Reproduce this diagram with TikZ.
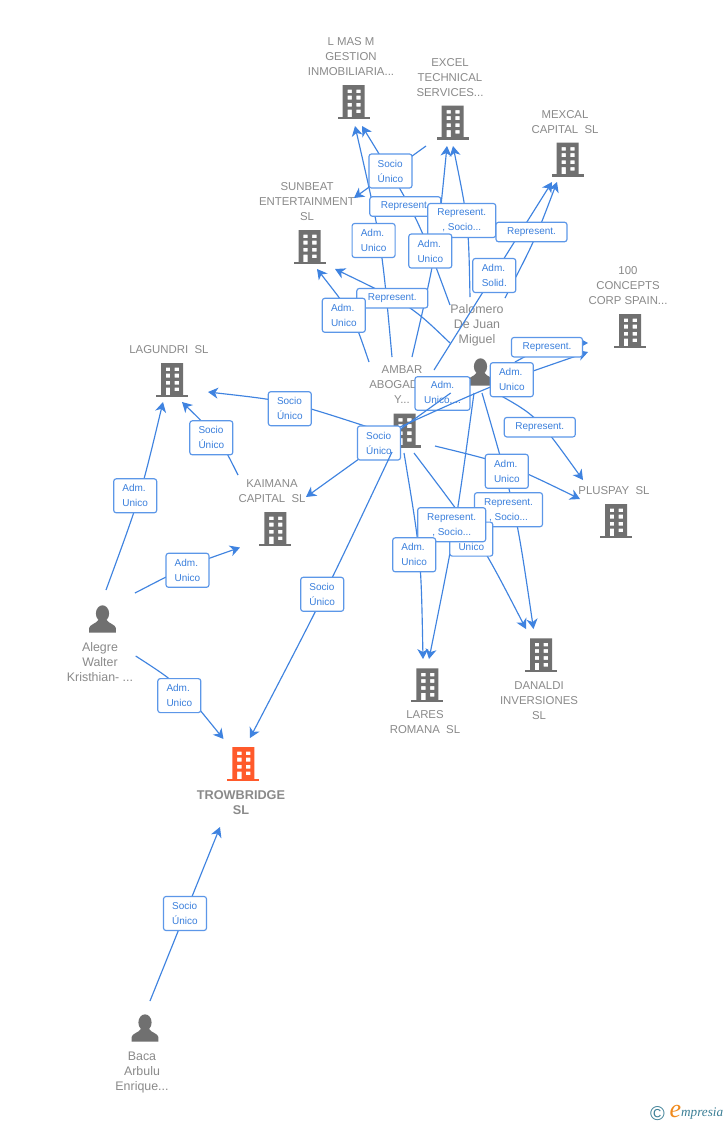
\documentclass[tikz,border=0pt]{standalone}
\usepackage{fontspec}
\setmainfont{Liberation Sans}
\newfontfamily\logofont{Liberation Serif}
\usetikzlibrary{arrows.meta}
\definecolor{linkblue}{HTML}{3F83E0}
\definecolor{boxblue}{HTML}{5C97E8}
\definecolor{textblue}{HTML}{3A7FDC}
\definecolor{labgrey}{HTML}{8A8A8A}
\definecolor{icongrey}{HTML}{707070}
\definecolor{mainorange}{HTML}{FF5A2B}
\definecolor{logoteal}{HTML}{3C7F96}
\definecolor{logoorange}{HTML}{F08A1D}
\tikzset{
  x=1pt,y=-1pt,
  link/.style={draw=linkblue,line width=1.15pt},
  arr/.style={link,-{Stealth[length=10pt,width=11pt,inset=3pt]}},
  tagbox/.style={draw=boxblue,line width=1.15pt,fill=white,rounded corners=2.5pt,inner sep=0pt,text=textblue,font=\fontsize{10}{15}\selectfont},
  twol/.style={tagbox,minimum width=43pt,minimum height=34pt,align=left},
  onel/.style={tagbox,minimum width=71pt,minimum height=19.5pt,align=center},
  twoc/.style={tagbox,minimum width=68pt,minimum height=34pt,align=center},
  comp/.style={text=labgrey,align=center,inner sep=0pt,font=\fontsize{11.4}{15}\selectfont},
  pers/.style={text=labgrey,align=center,inner sep=0pt,font=\fontsize{12.4}{15}\selectfont},
  anchorpt/.style={inner sep=0pt,minimum size=0pt},
  pics/bldg/.style={code={
    \fill[#1,even odd rule]
      (-11,-17) rectangle (11,15)
      (-6.2,-12.5) rectangle (-1.8,-9)
      (2.6,-12.5) rectangle (7,-9)
      (-6.2,-6.3) rectangle (-1.8,-2.5)
      (2.6,-6.3) rectangle (7,-2.5)
      (-6.2,0.8) rectangle (-1.8,4.6)
      (2.6,0.8) rectangle (7,4.6)
      (-6.2,7.6) rectangle (-1.8,15)
      (2.6,7.6) rectangle (7,11.2);
    \fill[#1] (-16,14.8) rectangle (16,17);
  }},
  pics/persona/.style={code={
    \fill[icongrey] (0,-5.5) ellipse (6.6 and 8.2);
    \fill[icongrey] (-13.3,13.5) -- (-13.3,9) .. controls (-13,5.5) and (-7,5) .. (-4,1) -- (4,1)
      .. controls (7,5) and (13,5.5) .. (13.3,9) -- (13.3,13.5) -- cycle;
  }}
}
\begin{document}
\begin{tikzpicture}
\useasboundingbox (0,0) rectangle (728,1125);
\fill[white] (0,0) rectangle (728,1125);

% icons
\node[anchorpt] (lmasm) at (353.7,102) {};   \pic at (lmasm) {bldg=icongrey};
\node[anchorpt] (excel) at (452.7,122.5) {}; \pic at (excel) {bldg=icongrey};
\node[anchorpt] (mexcal) at (567.7,159.5) {};\pic at (mexcal) {bldg=icongrey};
\node[anchorpt] (sunbeat) at (309.5,247) {}; \pic at (sunbeat) {bldg=icongrey};
\node[anchorpt] (cien) at (630,331) {};      \pic at (cien) {bldg=icongrey};
\node[anchorpt] (lagundri) at (172,380) {};  \pic at (lagundri) {bldg=icongrey};
\node[anchorpt] (kaimana) at (275.4,529) {}; \pic at (kaimana) {bldg=icongrey};
\node[anchorpt] (pluspay) at (616,521) {};   \pic at (pluspay) {bldg=icongrey};
\node[anchorpt] (ambar) at (404.5,430.5) {}; \pic at (ambar) {bldg=icongrey};
\node[anchorpt] (danaldi) at (541,655.3) {}; \pic at (danaldi) {bldg=icongrey};
\node[anchorpt] (lares) at (427.4,685.3) {}; \pic at (lares) {bldg=icongrey};
\node[anchorpt] (trow) at (243.3,764) {};    \pic at (trow) {bldg=mainorange};
\node[anchorpt] (palomero) at (480.5,372) {};\pic at (palomero) {persona};
\node[anchorpt] (alegre) at (102.5,619) {};  \pic at (alegre) {persona};
\node[anchorpt] (baca) at (145,1028) {};     \pic at (baca) {persona};

% texts
\node[comp] (tlmasm) at (351,57) {L MAS M\\GESTION\\INMOBILIARIA...};
\node[comp] (texcel) at (450,78) {EXCEL\\TECHNICAL\\SERVICES...};
\node[comp] (tmexcal) at (565,122.5) {MEXCAL\\CAPITAL~~SL};
\node[comp] (tsunbeat) at (307,202) {SUNBEAT\\ENTERTAINMENT\\SL};
\node[comp] (tcien) at (628,286) {100\\CONCEPTS\\CORP SPAIN...};
\node[comp] (tlagundri) at (169,350) {LAGUNDRI~~SL};
\node[comp] (tkaimana) at (272,491.5) {KAIMANA\\CAPITAL~~SL};
\node[comp] (tpluspay) at (614,491) {PLUSPAY~~SL};
\node[comp] (tambar) at (402,385) {AMBAR\\ABOGADOS\\Y...};
\node[comp] (tdanaldi) at (539,701) {DANALDI\\INVERSIONES\\SL};
\node[comp] (tlares) at (425,722.5) {LARES\\ROMANA~~SL};
\node[comp,font=\fontsize{12.7}{15}\selectfont\bfseries] (ttrow) at (241,802.5) {TROWBRIDGE\\SL};
\node[pers] (tpalomero) at (477,325) {Palomero\\De Juan\\Miguel};
\node[pers] (talegre) at (100,662) {Alegre\\Walter\\Kristhian- ...};
\node[pers] (tbaca) at (142,1073) {Baca\\Arbulu\\Enrique...};

% connector ends
\coordinate (e1s) at (426,146);     \coordinate (e1t) at (354,198);
\coordinate (e2s) at (450,305);     \coordinate (e2t) at (362,126);
\coordinate (e3s) at (392,357);     \coordinate (e3t) at (355,126);
\coordinate (e4s) at (412,357);     \coordinate (e4t) at (447,146);
\coordinate (e5s) at (470,297);     \coordinate (e5t) at (453,146);
\coordinate (e6s) at (434,370);     \coordinate (e6t) at (552,182);
\coordinate (e7s) at (505,298);     \coordinate (e7t) at (557,182);
\coordinate (e8s) at (369,362);     \coordinate (e8t) at (317,269);
\coordinate (e9s) at (450,343);     \coordinate (e9t) at (335,269);
\coordinate (e10s) at (515,362);    \coordinate (e10t) at (588,343);
\coordinate (e11s) at (400,427);    \coordinate (e11t) at (588,352);
\coordinate (e12s) at (450.7,393);  \coordinate (e12t) at (306,497);
\coordinate (e13s) at (496,393);    \coordinate (e13t) at (583,480);
\coordinate (e14s) at (435,446);    \coordinate (e14t) at (580,499);
\coordinate (e15s) at (482,393);    \coordinate (e15t) at (533.5,629);
\coordinate (e16s) at (414,453);    \coordinate (e16t) at (526,629);
\coordinate (e17s) at (474,393);    \coordinate (e17t) at (429,659);
\coordinate (e18s) at (404,453);    \coordinate (e18t) at (423,659);
\coordinate (e19s) at (368,427);    \coordinate (e19t) at (208,392);
\coordinate (e20s) at (392,452);    \coordinate (e20t) at (250,738);
\coordinate (e21s) at (106,590);    \coordinate (e21t) at (163,402);
\coordinate (e22s) at (135,593);    \coordinate (e22t) at (240,547.5);
\coordinate (e23s) at (238,475);    \coordinate (e23t) at (182,402);
\coordinate (e24s) at (135.7,656);  \coordinate (e24t) at (223.5,739);
\coordinate (e25s) at (150,1001);   \coordinate (e25t) at (220,827);

% connectors beneath the tag boxes
\draw[arr] (e1s) -- (e1t);
\draw[arr] (e2s) .. controls (417.4,216.5) .. (e2t);
\draw[arr] (e3s) .. controls (381.5,241.5) .. (e3t);
\draw[arr] (e4s) .. controls (436.5,252) .. (e4t);
\draw[arr] (e5s) .. controls (468.5,222) .. (e5t);
\draw[arr] (e6s) -- (e6t);
\draw[arr] (e7s) .. controls (535,240) .. (e7t);
\draw[arr] (e8s) .. controls (353,315) .. (e8t);
\draw[arr] (e9s) .. controls (411.5,306) .. (e9t);
\draw[arr] (e10s) .. controls (550,343) .. (e10t);
\draw[arr] (e13s) .. controls (537,416) .. (e13t);
\draw[arr] (e14s) .. controls (507,463.5) .. (e14t);
\draw[arr] (e15s) .. controls (516,510) .. (e15t);
\draw[arr] (e16s) .. controls (480,540) .. (e16t);
\draw[arr] (e17s) .. controls (456,525) .. (e17t);
\draw[arr] (e18s) .. controls (421,555) .. (e18t);
\draw[arr] (e19s) .. controls (288,401) .. (e19t);
\draw[arr] (e21s) .. controls (140.5,496) .. (e21t);
\draw[arr] (e22s) .. controls (187,566) .. (e22t);
\draw[arr] (e23s) .. controls (220,439) .. (e23t);
\draw[arr] (e24s) .. controls (179,684) .. (e24t);
\draw[arr] (e25s) -- (e25t);

% box crossed by two lines
\node[twoc,minimum width=55pt,minimum height=33.6pt] (b14) at (442.5,393.5) {Adm.\\Unico,...};
\draw[arr] (e11s) .. controls (495,384) .. (e11t);
\draw[arr] (e12s) -- (e12t);
\node[twol] (b15) at (379,443) {Socio\\Único};
\draw[arr] (e20s) .. controls (325,594) .. (e20t);

% tag boxes
\node[twol] (b1) at (390.5,171) {Socio\\Único};
\node[onel] (b2) at (405.3,206.5) {Represent.};
\node[twol] (b3) at (373.6,240.5) {Adm.\\Unico};
\node[twoc] (b4) at (461.8,220.5) {Represent.\\, Socio...};
\node[twol] (b5) at (430.3,251) {Adm.\\Unico};
\node[onel] (b6) at (531.5,232) {Represent.};
\node[twol] (b7) at (494.3,275.5) {Adm.\\Solid.};
\node[onel] (b8) at (392.3,298.2) {Represent.};
\node[twol] (b9) at (343.8,315.3) {Adm.\\Unico};
\node[onel] (b10) at (547,347.2) {Represent.};
\node[twol] (b11) at (511.8,379.7) {Adm.\\Unico};
\node[onel] (b12) at (539.8,427.2) {Represent.};
\node[twol] (b13) at (506.8,471.3) {Adm.\\Unico};
\node[twoc] (b16) at (508.5,509.7) {Represent.\\, Socio...};
\node[twol,anchor=south] (b17) at (471.3,556.7) {Adm.\\Unico};
\node[twoc] (b18) at (451.7,524.7) {Represent.\\, Socio...};
\node[twol] (b19) at (414.2,554.8) {Adm.\\Unico};
\node[twol] (b20) at (289.8,408.7) {Socio\\Único};
\node[twol] (b21) at (211.3,437.8) {Socio\\Único};
\node[twol] (b22) at (135.2,495.8) {Adm.\\Unico};
\node[twol] (b23) at (187.5,570.3) {Adm.\\Unico};
\node[twol] (b24) at (322.2,594.3) {Socio\\Único};
\node[twol] (b25) at (179.3,695.6) {Adm.\\Unico};
\node[twol] (b26) at (185,913.5) {Socio\\Único};

% logo
\node[inner sep=0pt,text=logoteal,font=\fontsize{20}{20}\selectfont] (lc) at (657.5,1114) {©};
\node[inner sep=0pt,text=logoorange,font=\logofont\itshape\fontsize{26}{26}\selectfont] (le) at (675.5,1111.5) {e};
\node[inner sep=0pt,text=logoteal,anchor=west,font=\logofont\itshape\fontsize{13.2}{13}\selectfont] (lm) at (681,1114) {mpresia};
\end{tikzpicture}
\end{document}
